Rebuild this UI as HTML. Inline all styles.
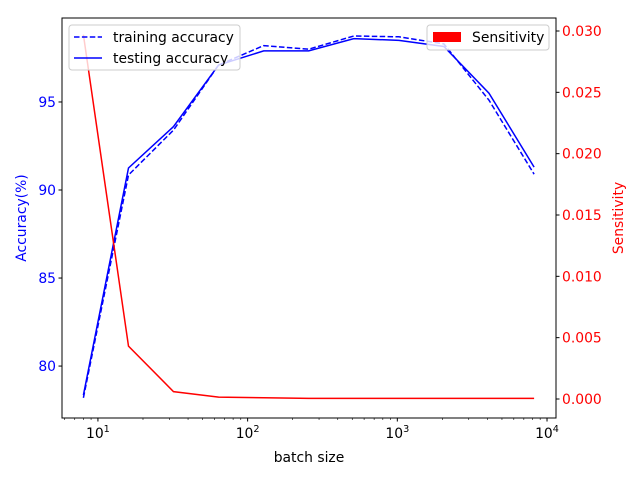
<!DOCTYPE html>
<html><head><meta charset="utf-8"><style>
body{margin:0;background:#fff;}
svg{font-family:"DejaVu Sans","Liberation Sans",sans-serif;}
</style></head><body>
<svg id="c" width="640" height="480" xmlns="http://www.w3.org/2000/svg">
<rect width="640" height="480" fill="#fff"/>
<g id="marks"></g>
<g id="axes"></g>
</svg>
<script>
const batchSizes=[8,16,32,64,128,256,512,1024,2048,4096,8192];
const trainAcc=[78.2,90.85,93.4,97.1,98.2,98.0,98.75,98.7,98.3,95.1,90.9];
const testAcc=[78.35,91.25,93.6,97.1,97.9,97.9,98.6,98.5,98.15,95.5,91.3];
const sensitivity=[0.0297,0.0043,0.0006,0.00015,0.0001,0.00005,0.00005,0.00005,0.00005,0.00005,0.00005];
const leftTicks=[80,85,90,95];
const rightTicks=[0,0.005,0.01,0.015,0.02,0.025,0.03];
const xTicks=[1,2,3,4];
const L=62,R=556,T=18,B=418;
const X=v=>L+(Math.log10(v)-0.76)/(4.06-0.76)*(R-L);
const YL=v=>B-(v-77.05)/(99.77-77.05)*(B-T);
const YR=v=>B-(v+0.00155)/(0.03106+0.00155)*(B-T);
const NS='http://www.w3.org/2000/svg';
function mk(tag,attrs,parent,txt){const e=document.createElementNS(NS,tag);for(const k in attrs)e.setAttribute(k,attrs[k]);if(txt!==undefined)e.textContent=txt;parent.appendChild(e);return e;}
const marks=document.getElementById('marks'),axes=document.getElementById('axes');
function line(xs,ys,fy,color,dash,name){
 const d=xs.map((x,i)=>(i?'L':'M')+X(x).toFixed(1)+','+fy(ys[i]).toFixed(1)).join(' ');
 const p=mk('path',{d:d,fill:'none',stroke:color,'stroke-width':1.5},marks);
 if(dash)p.setAttribute('stroke-dasharray',dash);
 
 
}
line(batchSizes,trainAcc,YL,'#0000ff','5.5,2.4','training-accuracy-line');
line(batchSizes,testAcc,YL,'#0000ff',null,'testing-accuracy-line');
line(batchSizes,sensitivity,YR,'#ff0000',null,'sensitivity-line');
const fr=mk('rect',{x:L,y:T,width:R-L,height:B-T,fill:'none',stroke:'#000','stroke-width':1},axes);

xTicks.forEach(p=>{const x=X(Math.pow(10,p));mk('line',{x1:x,x2:x,y1:B,y2:B+3.5,stroke:'#000'},axes);
 const t=mk('text',{x:x,y:B+20,'font-size':13.9,'text-anchor':'middle'},axes);
 
 t.appendChild(document.createTextNode('10'));mk('tspan',{dy:-6,'font-size':9.7},t,String(p));});
for(let p=0;p<5;p++)for(let m=2;m<10;m++){const v=m*Math.pow(10,p);const lv=Math.log10(v);if(lv<0.76||lv>4.06)continue;const x=X(v);mk('line',{x1:x,x2:x,y1:B,y2:B+2,stroke:'#000','stroke-width':0.6},axes);}
leftTicks.forEach(v=>{const y=YL(v);mk('line',{x1:L-3.5,x2:L,y1:y,y2:y,stroke:'#000'},axes);
 const t=mk('text',{x:L-6,y:y+5,'font-size':13.9,'text-anchor':'end',fill:'#0000ff'},axes,String(v));
 });
rightTicks.forEach(v=>{const y=YR(v);mk('line',{x1:R,x2:R+3.5,y1:y,y2:y,stroke:'#000'},axes);
 const t=mk('text',{x:R+6,y:y+5,'font-size':13.9,fill:'#ff0000'},axes,v.toFixed(3));
 });
</script>
<svg style="position:absolute;left:0;top:0" width="640" height="480" xmlns="http://www.w3.org/2000/svg" font-family="DejaVu Sans, Liberation Sans, sans-serif">
<text x="309" y="462" font-size="13.9" text-anchor="middle">batch size</text>
<text transform="translate(26,218) rotate(-90)" font-size="13.9" text-anchor="middle" fill="#0000ff">Accuracy(%)</text>
<text transform="translate(623,218) rotate(-90)" font-size="13.9" text-anchor="middle" fill="#ff0000">Sensitivity</text>
<g>
<rect x="69" y="25" width="171" height="45" rx="3" fill="#fff" fill-opacity="0.8" stroke="#ccc"/>
<line x1="74" y1="37" x2="102" y2="37" stroke="#0000ff" stroke-width="1.5" stroke-dasharray="5.5,2.4"/>
<text x="113" y="42" font-size="13.9">training accuracy</text>
<line x1="74" y1="58" x2="102" y2="58" stroke="#0000ff" stroke-width="1.5"/>
<text x="113" y="63" font-size="13.9">testing accuracy</text>
</g>
<g>
<rect x="427" y="25" width="122" height="25" rx="3" fill="#fff" fill-opacity="0.8" stroke="#ccc"/>
<rect x="433" y="32" width="28" height="10" fill="#ff0000"/>
<text x="472" y="42" font-size="13.9">Sensitivity</text>
</g>
</svg>
</body></html>
